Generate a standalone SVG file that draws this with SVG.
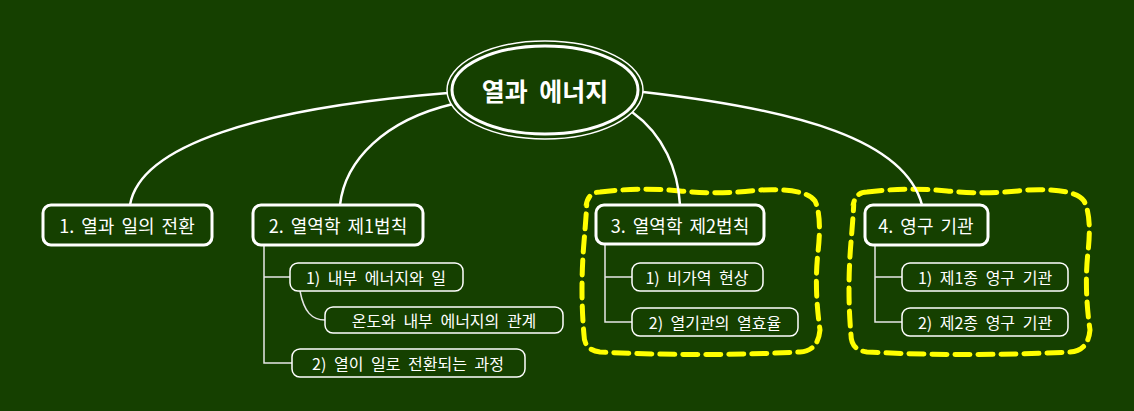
<svg xmlns="http://www.w3.org/2000/svg" width="1134" height="411" viewBox="0 0 1134 411">
<style>
text{font-family:"Noto Sans CJK KR","Noto Sans",sans-serif;fill:#fff;text-anchor:middle;dominant-baseline:central}
.l1{font-size:18px;word-spacing:3px}
.l2{font-size:16px;word-spacing:4px}
.b1{fill:#154000;stroke:#fff;stroke-width:3}
.b2{fill:#154000;stroke:#fff;stroke-width:1.5}
.main{fill:none;stroke:#fff;stroke-width:2.5}
.sub{fill:none;stroke:#e6e6e6;stroke-width:1.5}
.grp{fill:none;stroke:#ffff00;stroke-width:5;stroke-dasharray:15 8;stroke-linecap:round}
</style>
<rect width="1134" height="411" fill="#154000"/>
<g id="boundaries">
<path class="grp" d="M600,192 Q640,187 680,191 T760,190 Q806,188 815,201 Q822,216 818,252 T820,330 Q818,351 800,352 Q700,357 600,352 Q584,350 584,335 Q580,290 584,242 T586,206 Q588,192 600,192 Z"/>
<path class="grp" d="M867,192 Q907,187 947,191 T1027,190 Q1075,188 1084,201 Q1092,216 1088,252 T1090,330 Q1088,351 1070,352 Q970,357 867,352 Q851,350 851,335 Q847,290 851,242 T853,206 Q855,192 867,192 Z"/>
</g>
<g id="connectors">
<path class="main" d="M448,93 C260,108 140,145 130,205"/>
<path class="main" d="M453,104 C385,120 345,160 340,205"/>
<path class="main" d="M632,112 C664,135 678,170 680,205"/>
<path class="main" d="M643,92 C800,110 905,140 922,205"/>
<path class="sub" d="M264,245 V363 H292 M264,277 H290"/>
<path class="sub" d="M300,291 C304,312 312,320 325,320"/>
<path class="sub" d="M605,244 V322 H632 M605,277 H632"/>
<path class="sub" d="M875,245 V322 H902 M875,277 H902"/>
</g>
<g id="center">
<ellipse cx="545" cy="90" rx="98" ry="49" fill="#154000" stroke="#fff" stroke-width="1.5"/>
<ellipse cx="545" cy="90" rx="93" ry="44" fill="none" stroke="#fff" stroke-width="3"/>
<text x="545" y="90" style="font-size:25px;font-weight:bold;word-spacing:6px">열과 에너지</text>
</g>
<g id="n1"><rect class="b1" x="43" y="205" width="169" height="40" rx="8"/><text class="l1" x="127" y="225">1. 열과 일의 전환</text></g>
<g id="n2"><rect class="b1" x="253" y="205" width="170" height="40" rx="8"/><text class="l1" x="338" y="225">2. 열역학 제1법칙</text></g>
<g id="n3"><rect class="b1" x="596" y="205" width="168" height="39" rx="8"/><text class="l1" x="680" y="225">3. 열역학 제2법칙</text></g>
<g id="n4"><rect class="b1" x="865" y="205" width="123" height="40" rx="8"/><text class="l1" x="926" y="225">4. 영구 기관</text></g>
<g id="n2a"><rect class="b2" x="290" y="263" width="173" height="28" rx="8"/><text class="l2" x="376" y="277">1) 내부 에너지와 일</text></g>
<g id="n2a1"><rect class="b2" x="325" y="307" width="238" height="26" rx="8"/><text class="l2" x="444" y="320">온도와 내부 에너지의 관계</text></g>
<g id="n2b"><rect class="b2" x="292" y="349" width="233" height="28" rx="8"/><text class="l2" x="408" y="363">2) 열이 일로 전환되는 과정</text></g>
<g id="n3a"><rect class="b2" x="632" y="263" width="131" height="28" rx="8"/><text class="l2" x="697" y="277">1) 비가역 현상</text></g>
<g id="n3b"><rect class="b2" x="632" y="308" width="166" height="28" rx="8"/><text class="l2" x="715" y="322">2) 열기관의 열효율</text></g>
<g id="n4a"><rect class="b2" x="902" y="263" width="166" height="28" rx="8"/><text class="l2" x="985" y="277">1) 제1종 영구 기관</text></g>
<g id="n4b"><rect class="b2" x="902" y="308" width="166" height="28" rx="8"/><text class="l2" x="985" y="322">2) 제2종 영구 기관</text></g>
</svg>
